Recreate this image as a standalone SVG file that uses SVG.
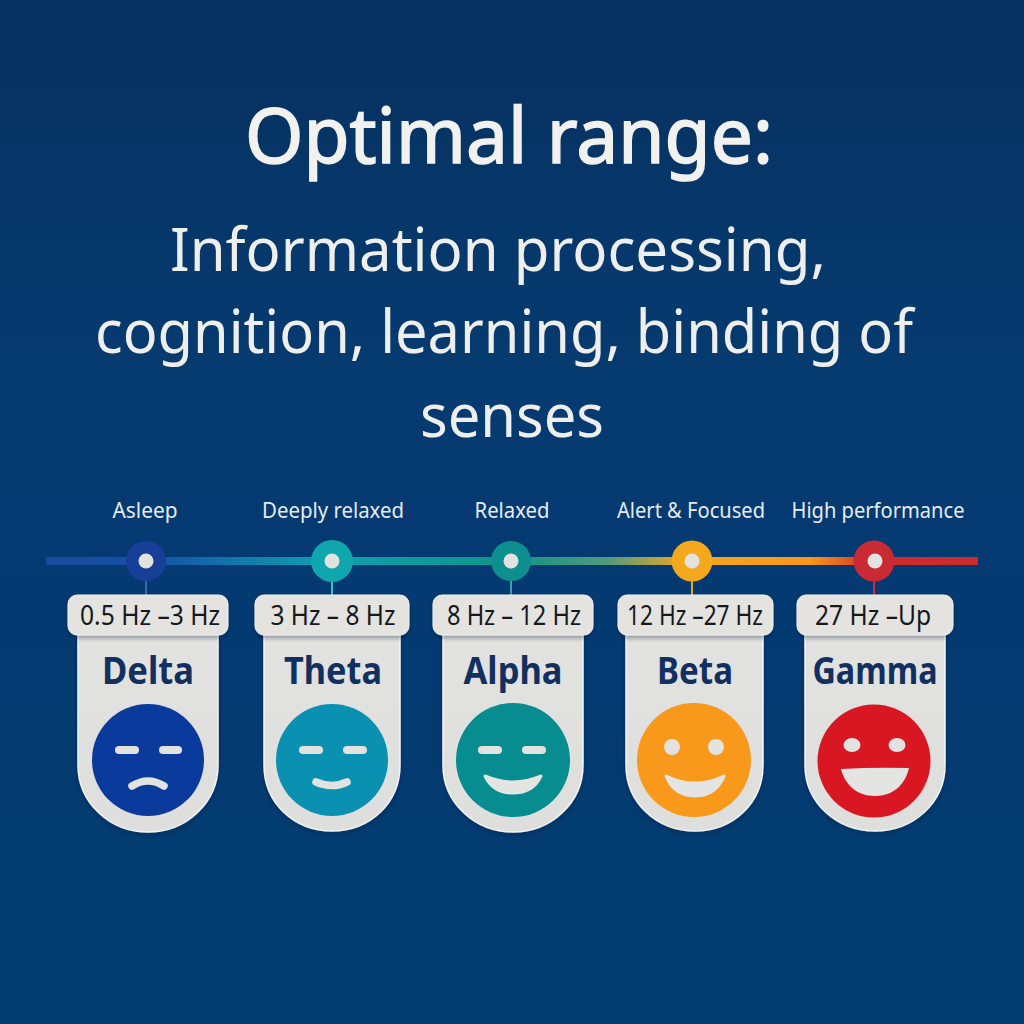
<svg xmlns="http://www.w3.org/2000/svg" width="1024" height="1024" viewBox="0 0 1024 1024">
<style>
text{font-family:"Noto Sans","Open Sans","DejaVu Sans",sans-serif;text-anchor:middle}
.t1{font-size:76px;fill:#f1f1ef;stroke:#f1f1ef;stroke-width:1.6px}
.t2{font-size:60px;fill:#eeeeec}
.st{font-size:21px;fill:#e6ebf0}
.hz{font-size:27px;fill:#15181d}
.nm{font-size:37px;font-weight:700;fill:#12305f}
.card{fill:url(#cardG);stroke:#f4f4f2;stroke-width:1.5;filter:url(#sh)}
.pill{fill:#e4e3e0;stroke:#f2f2f0;stroke-width:1;filter:url(#sh)}
.dot{fill:#e2e2e0}
.eye{fill:#e2e2e0}
.m{fill:none;stroke:#e2e2e0;stroke-width:7.5;stroke-linecap:round}
.mf{fill:#e4e4e2}
</style>
<defs>
<linearGradient id="bg" x1="0" y1="0" x2="0" y2="1"><stop offset="0" stop-color="#06305f"/><stop offset=".35" stop-color="#063b70"/><stop offset=".6" stop-color="#043a72"/><stop offset="1" stop-color="#023e70"/></linearGradient>
<linearGradient id="line" gradientUnits="userSpaceOnUse" x1="46" y1="0" x2="978" y2="0">
<stop offset="0" stop-color="#1a4aa0"/><stop offset=".11" stop-color="#1550a8"/><stop offset=".3" stop-color="#0ea0ae"/><stop offset=".5" stop-color="#0f9488"/><stop offset=".6" stop-color="#4f9a7c"/><stop offset=".69" stop-color="#f3a81e"/><stop offset=".82" stop-color="#f8961c"/><stop offset=".89" stop-color="#cf2b2b"/><stop offset="1" stop-color="#cc2c30"/></linearGradient>
<linearGradient id="cardG" x1="0" y1="0" x2="0" y2="1"><stop offset="0" stop-color="#c4c4c4"/><stop offset=".07" stop-color="#e2e2e0"/><stop offset="1" stop-color="#dededc"/></linearGradient>
<filter id="sh" x="-10%" y="-10%" width="120%" height="125%"><feDropShadow dx="0" dy="2" stdDeviation="2" flood-color="#001a3a" flood-opacity=".35"/></filter>
</defs>
<rect width="1024" height="1024" fill="url(#bg)"/>
<text class="t1" x="509" y="163" textLength="528" lengthAdjust="spacingAndGlyphs">Optimal range:</text>
<text class="t2" x="498" y="271" textLength="656" lengthAdjust="spacingAndGlyphs">Information processing,</text>
<text class="t2" x="504" y="353" textLength="818" lengthAdjust="spacingAndGlyphs">cognition, learning, binding of</text>
<text class="t2" x="512" y="437" textLength="184" lengthAdjust="spacingAndGlyphs">senses</text>
<g id="connectors">
<rect x="46" y="557" width="932" height="8" rx="1" fill="url(#line)"/>
<path d="M146 581V596" stroke="#3f66ad" stroke-width="2"/>
<path d="M332 581V596" stroke="#3fc0d0" stroke-width="2"/>
<path d="M511 581V596" stroke="#2aa6a4" stroke-width="2"/>
<path d="M692 581V596" stroke="#e8a428" stroke-width="2"/>
<path d="M874 581V596" stroke="#c8323e" stroke-width="2"/>
</g>
<g id="delta">
<text class="st" x="145" y="518" textLength="65" lengthAdjust="spacingAndGlyphs">Asleep</text>
<circle cx="146" cy="561" r="20" fill="#183f98"/><circle class="dot" cx="146" cy="561" r="7.5"/>
<path class="card" d="M78 630V765C78 803 110 832 148 832C186 832 218 803 218 765V630Z"/>
<rect class="pill" x="68" y="595" width="160" height="40" rx="9"/>
<text class="hz" x="150" y="625" textLength="140" lengthAdjust="spacingAndGlyphs">0.5 Hz –3 Hz</text>
<text class="nm" x="148" y="684" textLength="92" lengthAdjust="spacingAndGlyphs">Delta</text>
<circle cx="148" cy="760" r="56" fill="#0a3a9b"/>
<rect class="eye" x="115" y="746" width="24" height="8" rx="4"/><rect class="eye" x="159" y="746" width="23" height="8" rx="4"/>
<path d="M132 786Q148 776 164 786" class="m"/>
</g>
<g id="theta">
<text class="st" x="333" y="518" textLength="142" lengthAdjust="spacingAndGlyphs">Deeply relaxed</text>
<circle cx="332" cy="561" r="21" fill="#10a6ae"/><circle class="dot" cx="332" cy="561" r="7.5"/>
<path class="card" d="M264 630V765C264 803 294 831 332 831C370 831 400 803 400 765V630Z"/>
<rect class="pill" x="255" y="595" width="154" height="40" rx="9"/>
<text class="hz" x="333" y="625" textLength="125" lengthAdjust="spacingAndGlyphs">3 Hz – 8 Hz</text>
<text class="nm" x="333" y="684" textLength="98" lengthAdjust="spacingAndGlyphs">Theta</text>
<circle cx="332" cy="760" r="56" fill="#0a90b0"/>
<rect class="eye" x="299" y="746" width="24" height="8" rx="4"/><rect class="eye" x="343" y="746" width="24" height="8" rx="4"/>
<path d="M316 782Q332 789 347 782" class="m"/>
</g>
<g id="alpha">
<text class="st" x="512" y="518" textLength="75" lengthAdjust="spacingAndGlyphs">Relaxed</text>
<circle cx="511" cy="561" r="20" fill="#0d8f8d"/><circle class="dot" cx="511" cy="561" r="7.5"/>
<path class="card" d="M443 630V765C443 803 475 832 513 832C551 832 583 803 583 765V630Z"/>
<rect class="pill" x="433" y="595" width="160" height="40" rx="9"/>
<text class="hz" x="514" y="625" textLength="134" lengthAdjust="spacingAndGlyphs">8 Hz – 12 Hz</text>
<text class="nm" x="513" y="684" textLength="99" lengthAdjust="spacingAndGlyphs">Alpha</text>
<circle cx="513" cy="760" r="57" fill="#078c90"/>
<rect class="eye" x="478" y="746" width="24" height="8" rx="4"/><rect class="eye" x="522" y="746" width="24" height="8" rx="4"/>
<path class="mf" d="M485 776Q513 788 541 776Q533 793 513 793Q493 793 485 776Z" stroke="#e4e4e2" stroke-width="3" stroke-linejoin="round"/>
</g>
<g id="beta">
<text class="st" x="691" y="518" textLength="148" lengthAdjust="spacingAndGlyphs">Alert &amp; Focused</text>
<circle cx="692" cy="561" r="20.5" fill="#f3a81e"/><circle class="dot" cx="692" cy="561" r="7.5"/>
<path class="card" d="M626 630V765C626 803 657 831 695 831C733 831 763 803 763 765V630Z"/>
<rect class="pill" x="618" y="595" width="155" height="40" rx="9"/>
<text class="hz" x="695" y="625" textLength="136" lengthAdjust="spacingAndGlyphs">12 Hz –27 Hz</text>
<text class="nm" x="695" y="684" textLength="76" lengthAdjust="spacingAndGlyphs">Beta</text>
<circle cx="694" cy="760" r="57" fill="#f8991c"/>
<circle class="eye" cx="672" cy="747" r="8"/><circle class="eye" cx="716" cy="747" r="8"/>
<path class="mf" d="M666 776Q695 790 724 776Q716 796 695 796Q674 796 666 776Z" stroke="#e4e4e2" stroke-width="3" stroke-linejoin="round"/>
</g>
<g id="gamma">
<text class="st" x="878" y="518" textLength="173" lengthAdjust="spacingAndGlyphs">High performance</text>
<circle cx="874" cy="561" r="20.5" fill="#c92a33"/><circle class="dot" cx="875" cy="561" r="7.5"/>
<path class="card" d="M805 630V765C805 803 837 831 875 831C913 831 945 803 945 765V630Z"/>
<rect class="pill" x="797" y="595" width="156" height="40" rx="9"/>
<text class="hz" x="873" y="625" textLength="116" lengthAdjust="spacingAndGlyphs">27 Hz –Up</text>
<text class="nm" x="875" y="684" textLength="125" lengthAdjust="spacingAndGlyphs">Gamma</text>
<circle cx="874" cy="761" r="56.5" fill="#d81722"/>
<ellipse class="eye" cx="852" cy="745" rx="8.5" ry="7"/><ellipse class="eye" cx="897" cy="745" rx="8.5" ry="7"/>
<path class="mf" d="M841 769Q875 767 909 768C905 785 893 796 875 796C857 796 845 785 841 769Z"/>
</g>
</svg>
